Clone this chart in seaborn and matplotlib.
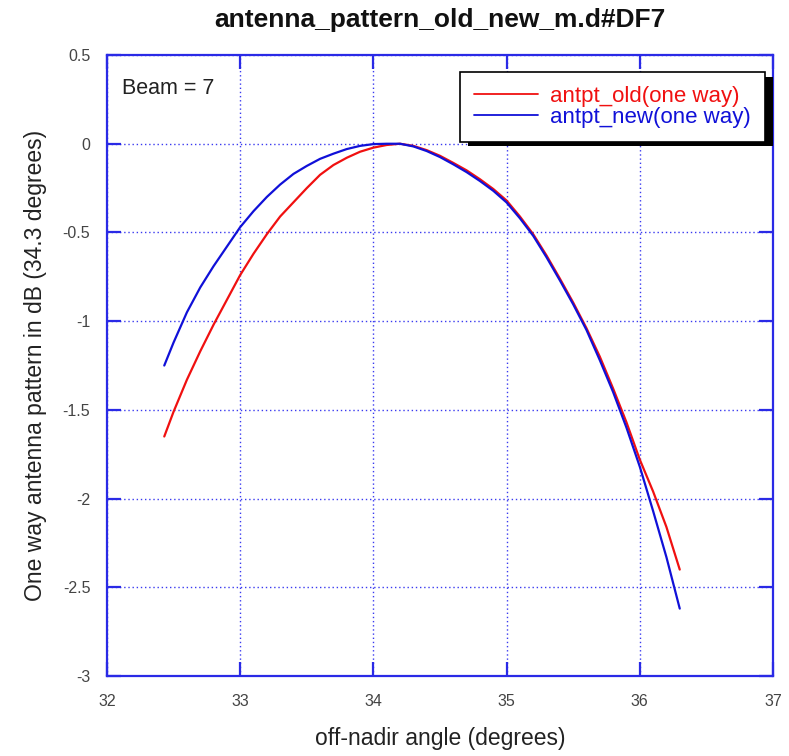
import matplotlib
matplotlib.use("Agg")
import matplotlib.pyplot as plt
import matplotlib.patheffects as pe
import seaborn as sns
import pandas as pd

# Data
old_angle = [32.43, 32.5, 32.6, 32.7, 32.8, 32.9, 33.0, 33.1, 33.2, 33.3, 33.4,
             33.5, 33.6, 33.7, 33.8, 33.9, 34.0, 34.1, 34.2, 34.3, 34.4, 34.5,
             34.6, 34.7, 34.8, 34.9, 35.0, 35.1, 35.2, 35.3, 35.4, 35.5, 35.6,
             35.7, 35.8, 35.9, 36.0, 36.1, 36.2, 36.3]
old_db = [-1.65, -1.51, -1.33, -1.17, -1.02, -0.88, -0.74, -0.62, -0.51, -0.41,
          -0.33, -0.25, -0.175, -0.12, -0.079, -0.045, -0.022, -0.007, 0.0,
          -0.012, -0.036, -0.068, -0.108, -0.15, -0.20, -0.255, -0.32, -0.41,
          -0.51, -0.63, -0.76, -0.895, -1.04, -1.20, -1.38, -1.57, -1.78,
          -1.96, -2.16, -2.40]

new_angle = [32.43, 32.5, 32.6, 32.7, 32.8, 32.9, 33.0, 33.1, 33.2, 33.3, 33.4,
             33.5, 33.6, 33.7, 33.8, 33.9, 34.0, 34.1, 34.2, 34.3, 34.4, 34.5,
             34.6, 34.7, 34.8, 34.9, 35.0, 35.1, 35.2, 35.3, 35.4, 35.5, 35.6,
             35.7, 35.8, 35.9, 36.0, 36.1, 36.2, 36.3]
new_db = [-1.25, -1.12, -0.95, -0.81, -0.69, -0.58, -0.47, -0.38, -0.30, -0.23,
          -0.17, -0.125, -0.085, -0.056, -0.03, -0.012, -0.002, 0.0, 0.0,
          -0.015, -0.041, -0.075, -0.116, -0.16, -0.21, -0.265, -0.331, -0.42,
          -0.519, -0.64, -0.77, -0.905, -1.05, -1.22, -1.40, -1.60, -1.82,
          -2.07, -2.33, -2.62]

x_ticks = [32, 33, 34, 35, 36, 37]
x_tick_labels = ["32", "33", "34", "35", "36", "37"]
y_ticks = [-3, -2.5, -2, -1.5, -1, -0.5, 0, 0.5]
y_tick_labels = ["-3", "-2.5", "-2", "-1.5", "-1", "-0.5", "0", "0.5"]

sns.set_style("white")
plt.rcParams['font.family'] = ['Liberation Sans', 'DejaVu Sans']

fig = plt.figure(figsize=(7.89, 7.56), dpi=100)
ax = fig.add_axes([0.1356, 0.1058, 0.9797 - 0.1356, 0.9272 - 0.1058])

df_old = pd.DataFrame({"angle": old_angle, "db": old_db})
df_new = pd.DataFrame({"angle": new_angle, "db": new_db})

red = "#f01010"
blue = "#1010d8"
frame_blue = "#2a2ae6"

sns.lineplot(data=df_old, x="angle", y="db", ax=ax, color=red, lw=1.6,
             sort=False, label="antpt_old(one way)")
sns.lineplot(data=df_new, x="angle", y="db", ax=ax, color=blue, lw=1.6,
             sort=False, label="antpt_new(one way)")

ax.set_xlim(32, 37)
ax.set_ylim(-3, 0.5)
ax.set_xticks(x_ticks)
ax.set_xticklabels(x_tick_labels)
ax.set_yticks(y_ticks)
ax.set_yticklabels(y_tick_labels)

ax.grid(True, color="#3a3af0", linestyle=(0, (1, 2)), linewidth=1.0)
for s in ax.spines.values():
    s.set_color(frame_blue)
    s.set_linewidth(1.6)

ax.tick_params(axis="both", which="major", direction="in", length=10, width=1.6,
               color=frame_blue, top=True, right=True, bottom=True, left=True,
               labelsize=11.5, labelcolor="#444444")
ax.tick_params(axis="x", pad=13)
ax.tick_params(axis="y", pad=12)

ax.set_xlabel("off-nadir angle (degrees)", fontsize=16.5, color="#222222")
ax.xaxis.label.set_va("baseline")
ax.xaxis.set_label_coords(0.5, (676 - 745) / 621)
ax.set_ylabel("One way antenna pattern in dB (34.3 degrees)", fontsize=16.5,
              color="#222222")
ax.yaxis.label.set_va("baseline")
ax.yaxis.set_label_coords((42 - 107) / 666, 0.5)
ax.set_title("antenna_pattern_old_new_m.d#DF7", fontsize=19, fontweight="bold",
             y=(676 - 27) / 621, pad=0, color="#111111")

ax.text((122 - 107) / 666, (676 - 94) / 621, "Beam = 7", transform=ax.transAxes,
        fontsize=15.5, color="#222222", va="baseline")

leg = ax.legend(loc="upper right", bbox_to_anchor=(1 - 8 / 666, 1 - 17 / 621),
                fontsize=16, frameon=True, fancybox=False, shadow=False,
                borderpad=0.62, handlelength=2.9, handletextpad=0.55,
                labelspacing=0.0, borderaxespad=0.0)
frame = leg.get_frame()
frame.set_edgecolor("black")
frame.set_linewidth(1.2)
frame.set_alpha(1)
frame.set_path_effects([pe.withSimplePatchShadow(offset=(5.5, -3.5),
                                                  shadow_rgbFace="black",
                                                  alpha=1.0)])
for txt, col in zip(leg.get_texts(), [red, blue]):
    txt.set_color(col)
for h in leg.get_lines():
    h.set_linewidth(1.3)

fig.savefig("out.png", dpi=100)
